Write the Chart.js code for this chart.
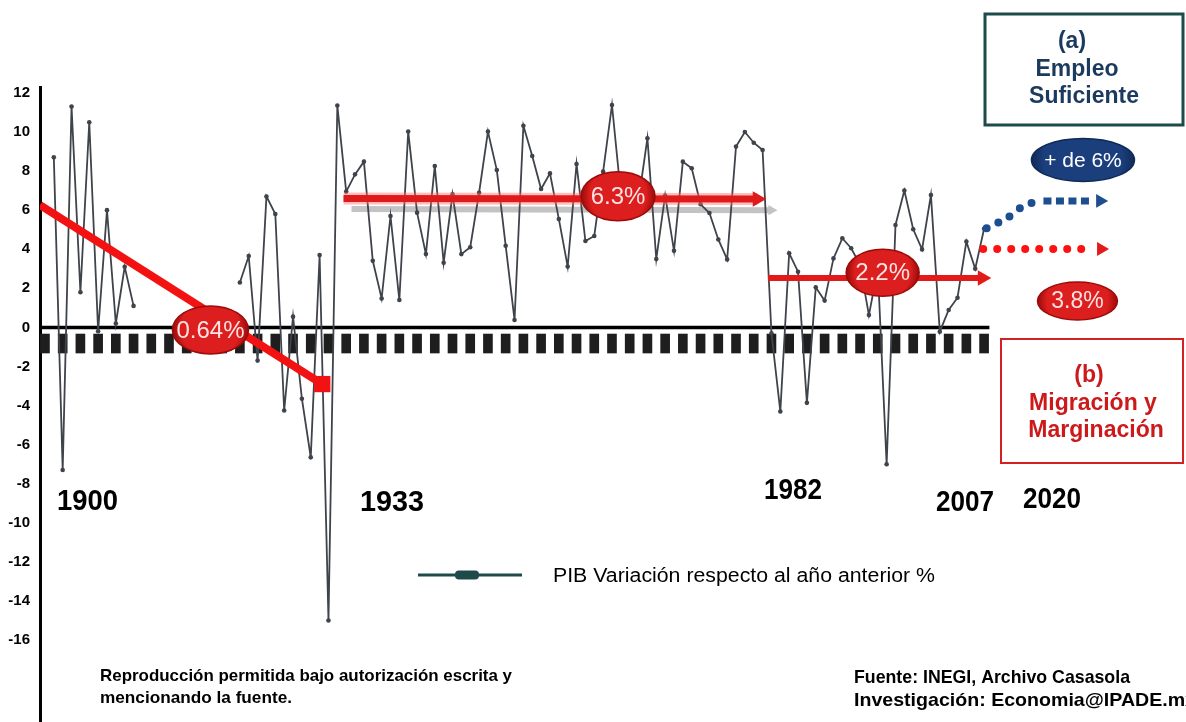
<!DOCTYPE html>
<html><head><meta charset="utf-8">
<script src="https://cdn.jsdelivr.net/npm/chart.js@4.4.1/dist/chart.umd.min.js"></script>
<style>html,body{margin:0;padding:0;background:#fff;}#wrap{width:1186px;height:722px;}</style>
</head><body><div id="wrap"><canvas id="c" width="1186" height="722"></canvas></div>
<script>
// ---- data ----
const years = Array.from({length: 106}, (_, i) => 1901 + i); // 1901..2006
const pibValues = [
  8.7, -7.3, 11.3, 1.8, 10.5, -0.2, 6.0, 0.2, 3.1, 1.1,
  null, null, null, null, null, null, null, null, null, null,
  null, 2.3, 3.65, -1.7, 6.7, 5.8, -4.25, 0.55, -3.65, -6.65,
  3.7, -15.0, 11.35, 6.95, 7.83, 8.48, 3.41, 1.48, 5.70, 1.40,
  10.02, 5.87, 3.75, 8.26, 3.31, 6.81, 3.75, 4.10, 6.89, 10.02,
  8.05, 4.18, 0.38, 10.32, 8.77, 7.08, 7.88, 5.55, 3.11, 8.36,
  4.42, 4.68, 7.97, 11.38, 6.8, 6.6, 6.5, 9.68, 3.5, 6.75,
  3.92, 8.48, 8.14, 6.3, 5.85, 4.5, 3.48, 9.25, 10.0, 9.45,
  9.08, -0.3, -4.3, 3.79, 2.85, -3.86, 2.05, 1.37, 3.53, 4.56,
  4.05, 3.2, 0.63, 3.0, -7.0, 5.24, 7.0, 5.02, 3.99, 6.77,
  -0.22, 0.89, 1.52, 4.39, 3.0, 5.05
];
const yTicks = [12, 10, 8, 6, 4, 2, 0, -2, -4, -6, -8, -10, -12, -14, -16];
const tickYears = Array.from({length: 54}, (_, i) => 1900 + 2 * i); // tick blocks under zero line
const tickBlock = [-0.34, -1.31];

// trend segments [year, value]
const trend1900 = [[1899.44, 6.26], [1931.3, -2.9]];
const trend1933 = [[1933.7, 6.6], [1980.4, 6.57]];
const trend1933Gray = [[1934.6, 6.06], [1982.0, 6.0]];
const trend1982 = [[1981.6, 2.53], [2005.8, 2.53]];
const projBlueCurve = [[2006.29, 5.07], [2007.6, 5.36], [2009.11, 5.75], [2010.24, 6.15], [2012.0, 6.47]];
const projBlueDash = [[2012.7, 6.47], [2018.3, 6.47]];
const projBlueHead = [[2019.1, 6.47]];
const projRed = [[2005.9, 4.01], [2018.2, 4.01]];
const projRedHead = [[2019.2, 4.01]];

// ellipse labels: text, year, value
const bubbleText = ['0.64%', '6.3%', '2.2%', '+ de 6%', '3.8%'];
const bubbleYear = [1918.68, 1964.68, 1994.55, 2017.16, 2016.54];
const bubbleValue = [-0.13, 6.71, 2.80, 8.57, 1.35];

const eraLabels = ['1900', '1933', '1982', '2007', '2020'];
const legendLabel = 'PIB Variación respecto al año anterior %';

// ---- helpers ----
const pts = arr => arr.map(p => ({x: p[0], y: p[1]}));
const FONT = "'Liberation Sans', Arial, sans-serif";

function fitText(ctx, txt, x, y, font, w, scaleOverride) {
  ctx.font = font;
  const m = ctx.measureText(txt).width;
  const s = scaleOverride || (w / m);
  ctx.save(); ctx.translate(x, y); ctx.scale(s, 1);
  ctx.textAlign = 'left'; ctx.fillText(txt, 0, 0); ctx.restore();
  return s;
}
function bubble(ctx, cx, cy, rx, ry, c0, c1, txt, font, tc) {
  ctx.save();
  ctx.beginPath(); ctx.ellipse(cx, cy, rx, ry, 0, 0, Math.PI * 2);
  const g = ctx.createRadialGradient(cx, cy - ry * 0.25, 2, cx, cy, rx);
  g.addColorStop(0, c0); g.addColorStop(0.75, c0); g.addColorStop(1, c1);
  ctx.fillStyle = g; ctx.fill();
  ctx.lineWidth = 1.5; ctx.strokeStyle = c1; ctx.stroke();
  ctx.fillStyle = tc; ctx.font = font; ctx.textAlign = 'center'; ctx.textBaseline = 'middle';
  ctx.fillText(txt, cx, cy + 1);
  ctx.restore();
}

const annotPlugin = {
  id: 'annot',
  afterDatasetsDraw(chart) {
    const {ctx, scales: {x, y}} = chart;
    const dims = [[38, 24], [37, 24.5], [36.5, 23.5], [51.5, 21.5], [40, 19]];
    const cols = [['#dc1e1e', '#9a0b0b'], ['#dc1e1e', '#9a0b0b'], ['#dc1e1e', '#9a0b0b'], ['#1b3f7c', '#102a58'], ['#dc1e1e', '#9a0b0b']];
    const fonts = ['24px ' + FONT, '24px ' + FONT, '24px ' + FONT, '21px ' + FONT, '23px ' + FONT];
    const tcs = ['#fde2e2', '#fde2e2', '#fde2e2', '#ffffff', '#fde2e2'];
    bubbleText.forEach((t, i) => {
      bubble(ctx, x.getPixelForValue(bubbleYear[i]), y.getPixelForValue(bubbleValue[i]),
        dims[i][0], dims[i][1], cols[i][0], cols[i][1], t, fonts[i], tcs[i]);
    });
  },
  afterDraw(chart) {
    const ctx = chart.ctx;
    ctx.save();
    ctx.textBaseline = 'middle';
    // era labels
    ctx.fillStyle = '#000';
    const eraPos = [[57, 502, 61], [360, 503, 64], [764, 491, 58], [936, 503, 58], [1023, 500, 58]];
    eraLabels.forEach((t, i) => fitText(ctx, t, eraPos[i][0], eraPos[i][1], 'bold 29px ' + FONT, eraPos[i][2]));
    // legend
    ctx.strokeStyle = '#1f4a4c'; ctx.lineWidth = 3;
    ctx.beginPath(); ctx.moveTo(418, 575); ctx.lineTo(522, 575); ctx.stroke();
    ctx.fillStyle = '#1f4a4c';
    ctx.beginPath(); ctx.roundRect(455, 570.5, 24, 9, 4); ctx.fill();
    ctx.fillStyle = '#000';
    fitText(ctx, legendLabel, 553, 576, '20px ' + FONT, 382);
    // bottom notes
    fitText(ctx, 'Reproducción permitida bajo autorización escrita y', 100, 676, 'bold 17px ' + FONT, 412);
    fitText(ctx, 'mencionando la fuente.', 100, 698, 'bold 17px ' + FONT, 192);
    fitText(ctx, 'Fuente: INEGI, Archivo Casasola', 854, 678, 'bold 19px ' + FONT, 276);
    fitText(ctx, 'Investigación: Economia@IPADE.mx', 854, 701, 'bold 19px ' + FONT, 342);
    // box (a)
    ctx.strokeStyle = '#1d4a4a'; ctx.lineWidth = 3;
    ctx.strokeRect(985, 14, 198, 111);
    ctx.fillStyle = '#1c3a5e'; ctx.font = 'bold 23px ' + FONT; ctx.textAlign = 'center';
    ctx.fillText('(a)', 1072, 42);
    ctx.fillText('Empleo', 1077, 70);
    ctx.fillText('Suficiente', 1084, 97);
    // box (b)
    ctx.strokeStyle = '#d42020'; ctx.lineWidth = 2;
    ctx.strokeRect(1001, 339, 182, 124);
    ctx.fillStyle = '#cc1a1a';
    ctx.fillText('(b)', 1089, 376);
    ctx.fillText('Migración y', 1093, 404);
    ctx.fillText('Marginación', 1096, 431);
    ctx.restore();
  }
};

const ctx = document.getElementById('c').getContext('2d');
new Chart(ctx, {
  type: 'line',
  data: {
    datasets: [
      { // projection blue curve (dots)
        data: pts(projBlueCurve), borderColor: '#1d4e8f', borderWidth: 8, borderDash: [0, 13],
        borderCapStyle: 'round', tension: 0.4, pointRadius: 0, order: 1
      },
      { data: pts(projBlueDash), borderColor: '#1d4e8f', borderWidth: 7, borderDash: [8, 4.5],
        pointRadius: 0, order: 1 },
      { data: pts(projBlueHead), showLine: false, pointStyle: 'triangle', rotation: 90, pointRadius: 8,
        backgroundColor: '#1d4e8f', borderColor: '#1d4e8f', borderWidth: 0, order: 1 },
      { data: pts(projRed), borderColor: '#ff1111', borderWidth: 8, borderDash: [0, 14],
        borderCapStyle: 'round', pointRadius: 0, order: 1 },
      { data: pts(projRedHead), showLine: false, pointStyle: 'triangle', rotation: 90, pointRadius: 8,
        backgroundColor: '#e31a1a', borderColor: '#e31a1a', borderWidth: 0, order: 1 },
      { // 1900-1932 trend
        data: pts(trend1900), borderColor: '#f31212', borderWidth: 8, pointStyle: 'rect',
        pointRadius: [0, 11.5], backgroundColor: '#f31212', pointBorderWidth: 0, order: 2
      },
      { data: pts(trend1933), borderColor: '#de1a1a', borderWidth: 7, pointStyle: 'triangle', rotation: 90,
        pointRadius: [0, 9], backgroundColor: '#de1a1a', pointBorderWidth: 0, order: 2 },
      { data: pts(trend1933), borderColor: 'rgba(255,110,110,0.45)', borderWidth: 12, pointRadius: 0, order: 3 },
      { data: pts(trend1982), borderColor: '#e21a1a', borderWidth: 6, pointStyle: 'triangle', rotation: 90,
        pointRadius: [0, 9], backgroundColor: '#e21a1a', pointBorderWidth: 0, order: 2 },
      { // PIB series
        label: legendLabel,
        data: years.map((yr, i) => ({x: yr, y: pibValues[i]})),
        borderColor: '#3f434b', borderWidth: 1.8, pointRadius: 2.3, pointBackgroundColor: '#3f434b',
        pointBorderWidth: 0, spanGaps: false, tension: 0, order: 4
      },
      { data: pts(trend1933Gray), borderColor: '#c3c3c3', borderWidth: 6, pointStyle: 'triangle', rotation: 90,
        pointRadius: [0, 6], backgroundColor: '#c3c3c3', pointBorderWidth: 0, order: 5 },
      { // zero line
        data: [{x: 1899.44, y: 0}, {x: 2006.6, y: 0}], borderColor: '#000', borderWidth: 3.5, pointRadius: 0, order: 6
      },
      { type: 'bar', data: tickYears.map(yr => ({x: yr, y: tickBlock})), backgroundColor: '#1e1e1e',
        barThickness: 9, grouped: false, order: 7 }
    ]
  },
  options: {
    responsive: false, animation: false, events: [],
    layout: {autoPadding: false, padding: {top: 87, left: 0, right: 0, bottom: 0}},
    plugins: {legend: {display: false}, tooltip: {enabled: false}},
    scales: {
      x: {type: 'linear', min: 1899.44, max: 2028.79, display: false, offset: false},
      y: {
        type: 'linear', min: -20.19, max: 12.30,
        grid: {display: false, drawTicks: false},
        border: {display: true, color: '#000', width: 3},
        ticks: {color: '#000', padding: 10, font: {family: FONT, weight: 'bold', size: 15}},
        afterBuildTicks: s => { s.ticks = yTicks.map(v => ({value: v})); },
        afterFit: s => { s.width = 40; s.paddingTop = 0; s.paddingBottom = 0; }
      }
    }
  },
  plugins: [annotPlugin]
});
</script></body></html>
